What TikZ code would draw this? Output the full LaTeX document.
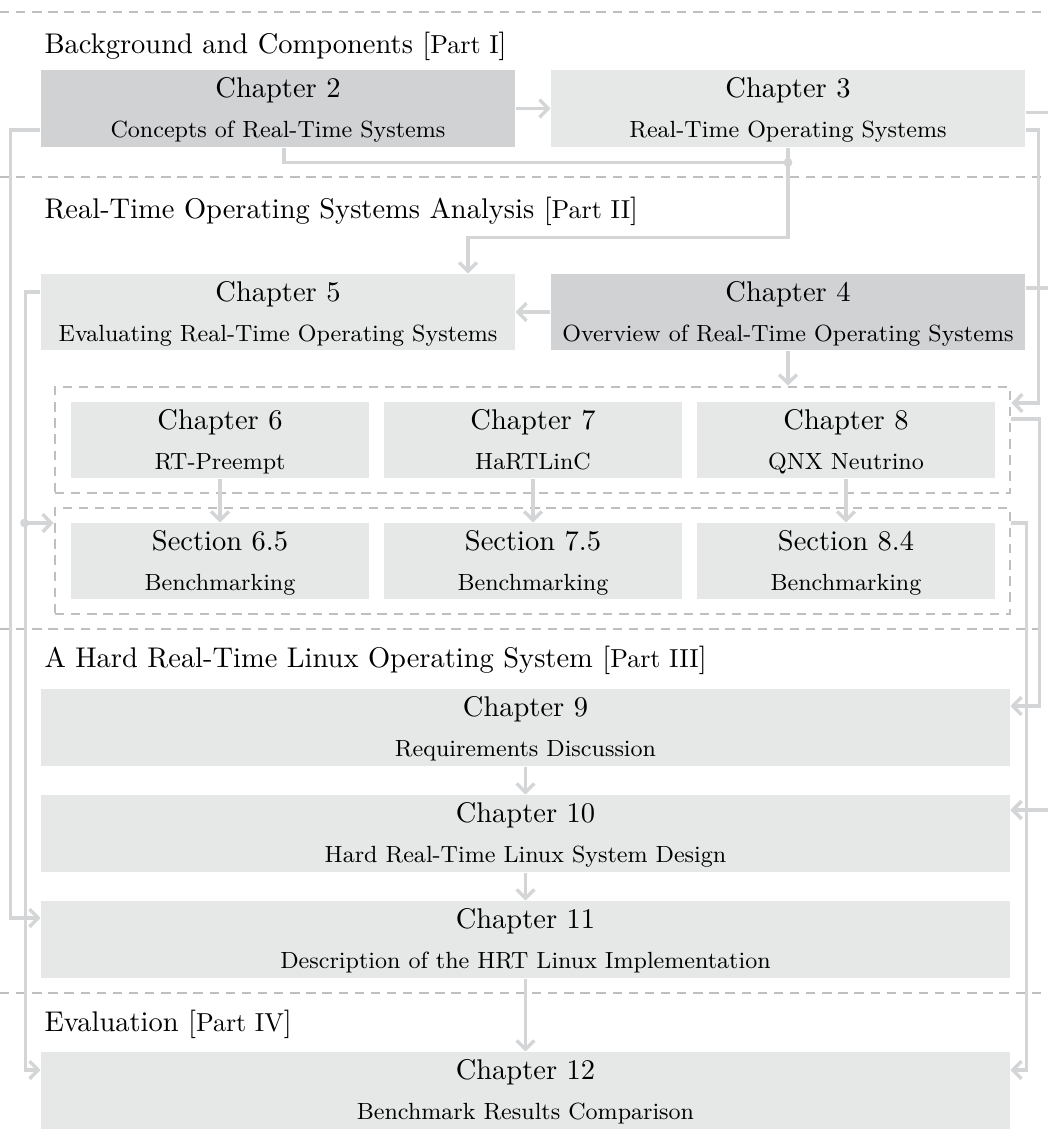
\documentclass[tikz,border=0pt]{standalone}
\usetikzlibrary{arrows.meta}

\definecolor{boxlight}{HTML}{E6E7E7}
\definecolor{boxdark}{HTML}{D1D2D4}
\definecolor{linkgrey}{HTML}{D4D5D7}
\definecolor{sepgrey}{HTML}{BFBFBF}

% font sizes of an 11pt document
\newcommand\titlesize{\fontsize{10.95pt}{13.6pt}\selectfont}
\newcommand\subsize{\fontsize{9pt}{11pt}\selectfont}
\newcommand\partsize{\fontsize{10pt}{12pt}\selectfont}

% fixed strut-like rules so every box sets its two lines at the same height
\newcommand\chaptop{\rule{0pt}{9.4pt}}
\newcommand\chapbot{\rule[-2.2pt]{0pt}{0pt}}
\newcommand\boxtext[2]{\chaptop#1\\[1.8pt]{\subsize#2\chapbot}}
\newcommand\partlabel[1]{[{\partsize #1}]}

\begin{document}
\begin{tikzpicture}[
  x=0.3846pt, y=-0.3846pt,
  chap/.style={rectangle, fill=boxlight, inner sep=0pt, align=center, font=\titlesize},
  chapdark/.style={chap, fill=boxdark},
  boxsize/.style 2 args={minimum width=#1*0.3846pt, minimum height=#2*0.3846pt},
  group/.style={rectangle, draw=sepgrey, line width=1.1pt, dash pattern=on 3.6pt off 2.6pt, inner sep=0pt},
  sep/.style={draw=sepgrey, line width=1.1pt, dash pattern=on 3.6pt off 2.6pt},
  heading/.style={anchor=base west, inner sep=0pt, font=\titlesize},
  link/.style={draw=linkgrey, line width=1.3pt},
  arr/.style={link, -{Straight Barb[length=3.3pt,width=6.8pt]}},
  dot/.style={fill=linkgrey}
]
\useasboundingbox (0,0) rectangle (1048,1142);
\clip (0,0) rectangle (1048,1142);

% part separators
\draw[sep] (0,12) -- (1048,12);
\draw[sep] (0,177) -- (1048,177);
\draw[sep] (0,629) -- (1048,629);
\draw[sep] (0,993) -- (1048,993);

% part headings
\node[heading] (p1) at (44,53) {Background and Components \partlabel{Part I}};
\node[heading] (p2) at (44,218) {Real-Time Operating Systems Analysis \partlabel{Part II}};
\node[heading] (p3) at (44,667) {A Hard Real-Time Linux Operating System \partlabel{Part III}};
\node[heading] (p4) at (44,1031) {Evaluation \partlabel{Part IV}};

% Part I
\node[chapdark, boxsize={474}{77}] (ch2) at (278,108.5) {\boxtext{Chapter 2}{Concepts of Real-Time Systems}};
\node[chap, boxsize={474}{77}] (ch3) at (788,108.5) {\boxtext{Chapter 3}{Real-Time Operating Systems}};

% Part II
\node[chap, boxsize={474}{76}] (ch5) at (278,312) {\boxtext{Chapter 5}{Evaluating Real-Time Operating Systems}};
\node[chapdark, boxsize={474}{76}] (ch4) at (788,312) {\boxtext{Chapter 4}{Overview of Real-Time Operating Systems}};

\node[group, boxsize={955}{106}] (grp1) at (532.5,440) {};
\node[group, boxsize={955}{106}] (grp2) at (532.5,561) {};

\node[chap, boxsize={298}{76}] (ch6) at (220,440) {\boxtext{Chapter 6}{RT-Preempt}};
\node[chap, boxsize={298}{76}] (ch7) at (533,440) {\boxtext{Chapter 7}{HaRTLinC}};
\node[chap, boxsize={298}{76}] (ch8) at (846,440) {\boxtext{Chapter 8}{QNX Neutrino}};

\node[chap, boxsize={298}{76}] (sec65) at (220,561) {\boxtext{Section 6.5}{Benchmarking}};
\node[chap, boxsize={298}{76}] (sec75) at (533,561) {\boxtext{Section 7.5}{Benchmarking}};
\node[chap, boxsize={298}{76}] (sec84) at (846,561) {\boxtext{Section 8.4}{Benchmarking}};

% Part III
\node[chap, boxsize={969}{77}] (ch9) at (525.5,727.5) {\boxtext{Chapter 9}{Requirements Discussion}};
\node[chap, boxsize={969}{77}] (ch10) at (525.5,833.5) {\boxtext{Chapter 10}{Hard Real-Time Linux System Design}};
\node[chap, boxsize={969}{77}] (ch11) at (525.5,939.5) {\boxtext{Chapter 11}{Description of the HRT Linux Implementation}};

% Part IV
\node[chap, boxsize={969}{77}] (ch12) at (525.5,1090.5) {\boxtext{Chapter 12}{Benchmark Results Comparison}};

% dependencies between chapters
\draw[arr] (ch2.east) -- (ch3.west);
\coordinate (j1) at ([yshift=-5.77pt]ch3.south);
\draw[link] ([xshift=2.3pt]ch2.south) |- (j1);
\draw[arr] (ch3.south) -- ++(0,90) -| ([xshift=73.07pt]ch5.north);
\draw[arr] (ch4.west) -- (ch5.east);
\draw[arr] (ch4.south) -- (ch4.south |- grp1.north);

\draw[arr] (ch6.south) -- (sec65.north);
\draw[arr] (ch7.south) -- (sec75.north);
\draw[arr] (ch8.south) -- (sec84.north);

\draw[arr] (ch9.south) -- (ch10.north);
\draw[arr] (ch10.south) -- (ch11.north);
\draw[arr] (ch11.south) -- (ch12.north);

% right-hand routes
\draw[arr] ([yshift=-8.27pt]ch3.east) -- ++(13,0) |- ([yshift=14.23pt]grp1.east);
\draw[arr] ([yshift=8.08pt]grp1.east) -- ++(28,0) |- ([yshift=8.27pt]ch9.east);
\draw[arr] ([yshift=14.62pt]grp2.east) -- ++(15,0) |- ([yshift=7.88pt]ch12.east);
\draw[arr] ([yshift=-1.54pt]ch3.east) -- ++(40,0) |- ([yshift=9.04pt]ch10.east);
\draw[arr] ([yshift=9.23pt]ch4.east) -- ++(40,0) |- ([yshift=9.04pt]ch10.east);

% left-hand routes
\draw[arr] ([yshift=-8.27pt]ch2.west) -- ++(-30,0) |- ([yshift=8.27pt]ch11.west);
\draw[arr] ([yshift=7.69pt]ch5.west) -- ++(-15,0) |- ([yshift=7.88pt]ch12.west);
\path ([yshift=14.62pt]grp2.west) ++(-29,0) coordinate (j2);
\draw[arr] (j2) -- ([yshift=14.62pt]grp2.west);

% junction dots
\fill[dot] (j1) circle[radius=1.7pt];
\fill[dot] (j2) circle[radius=1.7pt];
\end{tikzpicture}
\end{document}
